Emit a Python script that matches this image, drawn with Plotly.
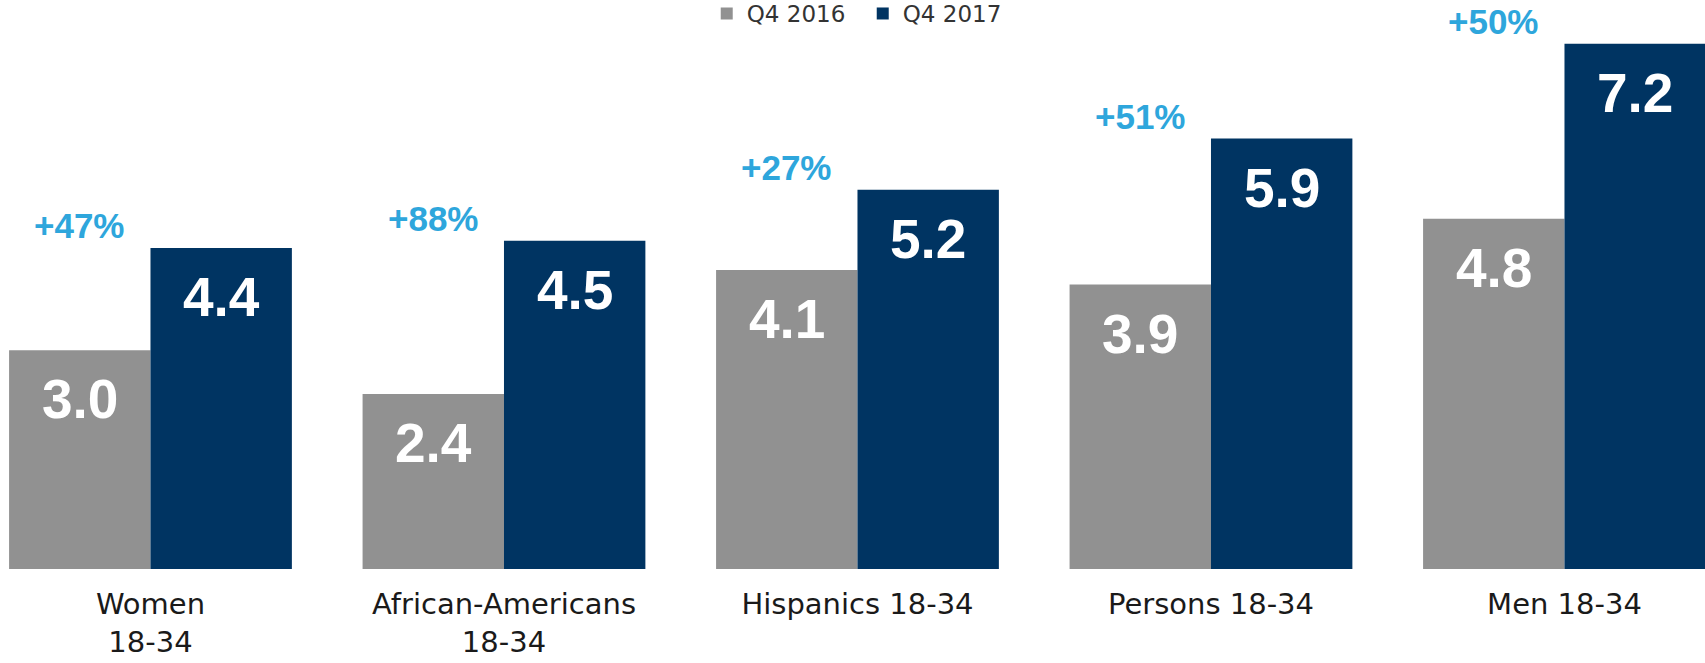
import plotly.graph_objects as go

# Average audience (millions) by demographic, Q4 2016 vs Q4 2017
categories = ["Women<br>18-34", "African-Americans<br>18-34", "Hispanics 18-34",
              "Persons 18-34", "Men 18-34"]
q4_2016 = [3.0, 2.4, 4.1, 3.9, 4.8]
q4_2017 = [4.4, 4.5, 5.2, 5.9, 7.2]

GRAY = "#919191"
NAVY = "#003462"
BLUE_TXT = "#2ea6dc"

idx = list(range(len(categories)))

fig = go.Figure()
fig.add_bar(name="Q4 2016", x=idx, y=q4_2016, marker_color=GRAY,
            marker_line_width=0)
fig.add_bar(name="Q4 2017", x=idx, y=q4_2017, marker_color=NAVY,
            marker_line_width=0)

annotations = []
half = 0.2  # half of one bar slot in a 2-bar group with bargap 0.2
for i, (a, b) in enumerate(zip(q4_2016, q4_2017)):
    for xv, v in ((i - half, a), (i + half, b)):
        annotations.append(dict(
            x=xv, y=v, xref="x", yref="y", text=f"{v:.1f}",
            showarrow=False, yanchor="top", xanchor="center", yshift=-16,
            font=dict(family="Liberation Sans, Arial, sans-serif", size=55,
                      color="white", weight="bold")))
    pct = int(round((b - a) / a * 100, 6) + 0.5)
    annotations.append(dict(
        x=i - half, y=b, xref="x", yref="y", text=f"+{pct}%",
        showarrow=False, yanchor="bottom", xanchor="center", yshift=1,
        font=dict(family="Liberation Sans, Arial, sans-serif", size=35,
                  color=BLUE_TXT, weight="bold")))

fig.update_layout(
    width=1705, height=663,
    margin=dict(l=0, r=0, t=0, b=94, autoexpand=False),
    paper_bgcolor="white", plot_bgcolor="white",
    barmode="group", bargap=0.2, bargroupgap=0,
    showlegend=True,
    legend=dict(orientation="h", x=0.506, xanchor="center", y=1.014,
                yanchor="top", bgcolor="rgba(0,0,0,0)",
                entrywidth=111, entrywidthmode="pixels",
                font=dict(family="DejaVu Sans, sans-serif", size=23,
                          color="#333333"),
                traceorder="normal"),
    annotations=annotations,
)
fig.update_xaxes(
    tickmode="array", tickvals=idx, ticktext=categories,
    range=[-0.4257, 4.3975], showgrid=False, zeroline=False, showline=False,
    ticks="", tickfont=dict(family="DejaVu Sans, sans-serif", size=29,
                            color="#1a1a1a"),
    ticklabelstandoff=15,
)
fig.update_yaxes(range=[0, 7.80], visible=False, showgrid=False,
                 zeroline=False)

fig.write_html("out.html")
